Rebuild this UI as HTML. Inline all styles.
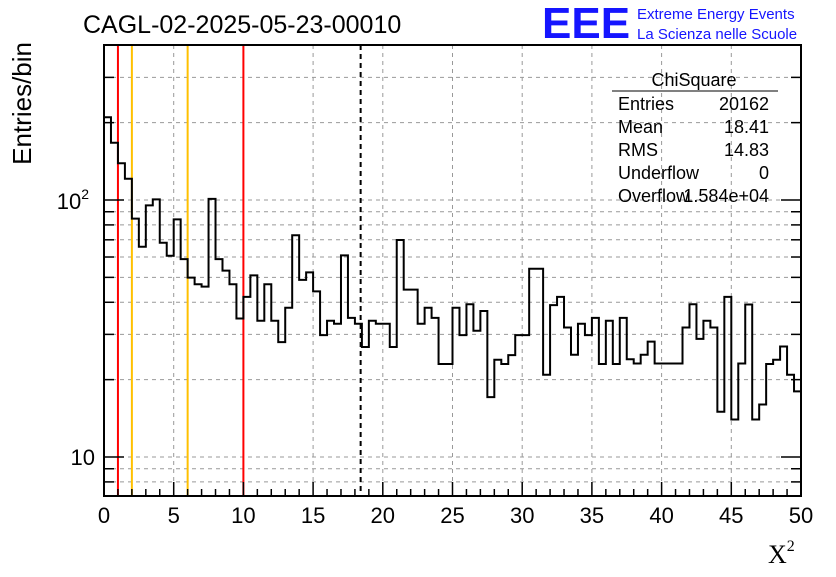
<!DOCTYPE html>
<html><head><meta charset="utf-8"><style>
body{margin:0;background:#fff;width:836px;height:572px;overflow:hidden;font-family:"Liberation Sans",sans-serif}
</style></head><body>
<svg id="c" width="836" height="572" xmlns="http://www.w3.org/2000/svg" font-family="Liberation Sans, sans-serif">
<g id="grid"></g>
<g id="marks"></g>
<path id="hist" fill="none" stroke="#000" stroke-width="2"/>
<rect x="104" y="45" width="697" height="451" fill="none" stroke="#000" stroke-width="2"/>
<g id="axes"></g>
<text x="83" y="33" font-size="25">CAGL-02-2025-05-23-00010</text>
<text x="542" y="38" font-size="44" font-weight="bold" fill="#1515ff">EEE</text>
<text x="637" y="19" font-size="15" fill="#1515ff">Extreme Energy Events</text>
<text x="637" y="39" font-size="15" fill="#1515ff">La Scienza nelle Scuole</text>
<g font-size="18">
<text x="694" y="86" text-anchor="middle">ChiSquare</text>
<line x1="612" y1="91" x2="778" y2="91" stroke="#000"/>
<text x="618" y="110">Entries</text><text x="769" y="110" text-anchor="end">20162</text>
<text x="618" y="133">Mean</text><text x="769" y="133" text-anchor="end">18.41</text>
<text x="618" y="156">RMS</text><text x="769" y="156" text-anchor="end">14.83</text>
<text x="618" y="179">Underflow</text><text x="769" y="179" text-anchor="end">0</text>
<text x="618" y="202">Overflow</text><text x="769" y="202" text-anchor="end">1.584e+04</text>
</g>
<text x="31" y="42" font-size="26" transform="rotate(-90 31 42)" text-anchor="end">Entries/bin</text>
<text x="768" y="563" font-size="26" font-family="Liberation Serif, serif">X<tspan font-size="16" dy="-12">2</tspan></text>
</svg>
<script>
const counts=[210,167,139,121,84.6,65.8,95.3,100.6,68.2,60.7,84.1,58.9,49.9,47,46,101,58.9,53.1,47,34.6,42,50.9,33.9,47,33.9,
28,38.1,72.9,48.9,52.3,44.1,29.8,33.9,33,60.9,34.8,33,26.8,33.9,33,33,26.8,69.9,44.8,44.8,33,38.1,34.8,
23,23,38.1,29.8,39.3,31,37,17.1,23.9,23,24.9,29.8,29.8,54,54,20.9,39,42,31.9,25,33,29.8,34.8,23,33.9,23,
34.8,24,23.1,25,28.1,23.1,23.1,23.1,23.1,31.9,39.3,28.8,33.9,31.9,15,42,14,23.1,39.2,14,16,23,23.9,26.9,20.9,18];
const binWidth=0.5;
const xTicks=[0,5,10,15,20,25,30,35,40,45,50];
const yGridVals=[8,9,10,20,30,40,50,60,70,80,90,100,200,300];
const redLines=[1,10];
const orangeLines=[2,6];
const meanValue=18.41;
const X0=104,X1=801,Y0=45,Y1=496;
const xs=v=>X0+(v/50)*(X1-X0);
const ys=v=>200-257*(Math.log10(v)-2);
const NS='http://www.w3.org/2000/svg';
function mk(p,t,a){const e=document.createElementNS(NS,t);for(const k in a)e.setAttribute(k,a[k]);p.appendChild(e);return e;}
const grid=document.getElementById('grid'),axes=document.getElementById('axes'),marks=document.getElementById('marks');
xTicks.forEach(t=>{
 if(t>0&&t<50){const l=mk(grid,'line',{x1:xs(t),x2:xs(t),y1:Y0,y2:Y1,stroke:'#999','stroke-dasharray':'4,4'});
 
 }
 const tk=mk(axes,'line',{x1:xs(t),x2:xs(t),y1:Y1,y2:Y1-14,stroke:'#000','stroke-width':1.5});
 
 
 const tx=mk(axes,'text',{x:xs(t),y:523,'font-size':22,'text-anchor':'middle'});tx.textContent=t;
 
 
});
for(let v=1;v<50;v++){if(v%5===0)continue;const l=mk(axes,'line',{x1:xs(v),x2:xs(v),y1:Y1,y2:Y1-7,stroke:'#000','stroke-width':1.5});
 
 }
yGridVals.forEach(v=>{const y=ys(v);
 const g=mk(grid,'line',{x1:X0,x2:X1,y1:y,y2:y,stroke:'#999','stroke-dasharray':'4,4'});
 
 
 const major=(v===10||v===100);
 [[X0,X0+(major?20:10)],[X1,X1-(major?20:10)]].forEach(p=>{const t=mk(axes,'line',{x1:p[0],x2:p[1],y1:y,y2:y,stroke:'#000','stroke-width':1.5});
 
 });
});
const l10=mk(axes,'text',{x:95,y:ys(10)+8,'font-size':22,'text-anchor':'end'});l10.textContent='10';


const l100=mk(axes,'text',{x:89,y:ys(100)+9,'font-size':22,'text-anchor':'end'});l100.innerHTML='10<tspan font-size="14" dy="-10">2</tspan>';


redLines.forEach(v=>{const l=mk(marks,'line',{x1:xs(v),x2:xs(v),y1:Y0,y2:Y1,stroke:'#f00','stroke-width':2});
 
 });
orangeLines.forEach(v=>{const l=mk(marks,'line',{x1:xs(v),x2:xs(v),y1:Y0,y2:Y1,stroke:'#ffc000','stroke-width':2});
 
 });
const ml=mk(marks,'line',{x1:xs(meanValue),x2:xs(meanValue),y1:Y0,y2:Y1,stroke:'#000','stroke-width':2,'stroke-dasharray':'5,4'});


let d='M'+xs(0)+','+Y1;
counts.forEach((c,i)=>{const y=ys(c);d+=' L'+xs(i*binWidth)+','+y+' L'+xs((i+1)*binWidth)+','+y;});
document.getElementById('hist').setAttribute('d',d);
</script>
</body></html>
